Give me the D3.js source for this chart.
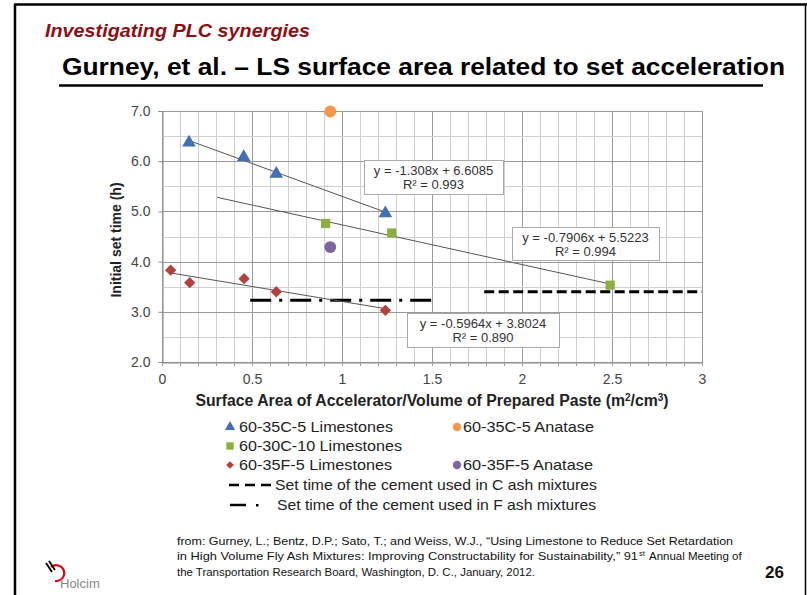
<!DOCTYPE html>
<html><head><meta charset="utf-8">
<script src="https://cdn.jsdelivr.net/npm/d3@7"></script>
<style>
html,body{margin:0;padding:0;background:#fff;}
svg{display:block;font-family:Arial,"Liberation Sans",sans-serif;}
</style></head>
<body>
<svg id="c" width="807" height="595"></svg>
<script>
// ---- data ----
const xTicks = [0, 0.5, 1, 1.5, 2, 2.5, 3];
const xTickLabels = ["0", "0.5", "1", "1.5", "2", "2.5", "3"];
const yTicks = [2, 3, 4, 5, 6, 7];
const yTickLabels = ["2.0", "3.0", "4.0", "5.0", "6.0", "7.0"];

const c35LimeX = [0.15, 0.454, 0.635, 1.241];
const c35LimeY = [6.37, 6.08, 5.75, 4.96];
const c30LimeX = [0.909, 1.276, 2.49];
const c30LimeY = [4.76, 4.57, 3.53];
const f35LimeX = [0.048, 0.154, 0.456, 0.635, 1.241];
const f35LimeY = [3.83, 3.58, 3.66, 3.40, 3.03];
const c35AnatX = [0.935];
const c35AnatY = [6.99];
const f35AnatX = [0.935];
const f35AnatY = [4.29];

// trendlines: slope, intercept, x range
const trendSlopes = [-1.308, -0.7906, -0.5964];
const trendIntercepts = [6.6085, 5.5223, 3.8024];
const trendStart = [0.15, 0.306, 0.048];
const trendEnd = [1.241, 2.49, 1.241];
const trendEq = ["y = -1.308x + 6.6085", "y = -0.7906x + 5.5223", "y = -0.5964x + 3.8024"];
const trendR2 = ["R² = 0.993", "R² = 0.994", "R² = 0.890"];

// cement set time reference lines
const cSetTime = 3.40, cSetRange = [1.79, 3.0];
const fSetTime = 3.23, fSetRange = [0.49, 1.5];

const legendLabels = ["60-35C-5 Limestones", "60-35C-5 Anatase", "60-30C-10 Limestones",
  "60-35F-5 Limestones", "60-35F-5 Anatase",
  "Set time of the cement used in C ash mixtures", "Set time of the cement used in F ash mixtures"];

const colors = {blue:"#3F6FB5", green:"#8CB040", red:"#B5413C", orange:"#F79646", purple:"#8064A2"};

// ---- drawing ----
const svg = d3.select("#c");
const x = d3.scaleLinear().domain([0, 3]).range([162, 702]);
const y = d3.scaleLinear().domain([2, 7]).range([362, 111]);

// slide frame
svg.append("line").attr("x1",15).attr("x2",15).attr("y1",4).attr("y2",595).attr("stroke","#000").attr("stroke-width",2.5);
svg.append("line").attr("x1",14).attr("x2",807).attr("y1",4.5).attr("y2",4.5).attr("stroke","#000").attr("stroke-width",2.5);
svg.append("line").attr("x1",805.5).attr("x2",805.5).attr("y1",4).attr("y2",595).attr("stroke","#000").attr("stroke-width",1.5);

// titles
svg.append("text").attr("x",45).attr("y",37).attr("font-size",18).attr("font-weight","bold")
  .attr("font-style","italic").attr("fill","#8E0F12").attr("textLength",265).attr("lengthAdjust","spacingAndGlyphs")
  .text("Investigating PLC synergies");
svg.append("text").attr("x",62).attr("y",75).attr("font-size",23.5).attr("font-weight","bold")
  .attr("fill","#000").attr("textLength",723).attr("lengthAdjust","spacingAndGlyphs")
  .text("Gurney, et al. – LS surface area related to set acceleration");
svg.append("line").attr("x1",59).attr("x2",763).attr("y1",85.5).attr("y2",85.5).attr("stroke","#000").attr("stroke-width",2.5);

// grid
const g = svg.append("g");
const minorX = d3.range(0, 31).map(i => i/10);
const minorY = d3.range(0, 11).map(i => 2 + i/2);
g.selectAll("line.mx").data(minorX).join("line")
  .attr("x1", d=>Math.round(x(d))+0.5).attr("x2", d=>Math.round(x(d))+0.5)
  .attr("y1", y(7)).attr("y2", y(2))
  .attr("stroke", (d,i)=> i%5===0 ? "#9a9a9a" : "#cfcfcf").attr("stroke-width",1);
g.selectAll("line.my").data(minorY).join("line")
  .attr("x1", x(0)).attr("x2", x(3))
  .attr("y1", d=>Math.round(y(d))+0.5).attr("y2", d=>Math.round(y(d))+0.5)
  .attr("stroke", (d,i)=> i%2===0 ? "#9a9a9a" : "#cfcfcf").attr("stroke-width",1);

// axes
const xAxis = d3.axisBottom(x).tickValues(xTicks).tickFormat((d,i)=>xTickLabels[i]).tickSize(0).tickPadding(12);
const xg = svg.append("g").attr("transform",`translate(0,${Math.round(y(2))+0.5})`).call(xAxis);
xg.select(".domain").attr("stroke","#888");
xg.selectAll("text").attr("font-size",14).attr("fill","#444").attr("font-family","Arial,sans-serif");
svg.append("g").selectAll("line").data(minorX).join("line")
  .attr("x1", d=>Math.round(x(d))+0.5).attr("x2", d=>Math.round(x(d))+0.5)
  .attr("y1", y(2)).attr("y2", y(2)+4).attr("stroke","#999");

const yAxis = d3.axisLeft(y).tickValues(yTicks).tickFormat((d,i)=>yTickLabels[i]).tickSize(4).tickPadding(8);
const yg = svg.append("g").attr("transform",`translate(${Math.round(x(0))+0.5},0)`).call(yAxis);
yg.select(".domain").attr("stroke","#888");
yg.selectAll("line").attr("stroke","#888");
yg.selectAll("text").attr("font-size",14).attr("fill","#444").attr("font-family","Arial,sans-serif");

svg.append("text").attr("transform","translate(121,240) rotate(-90)").attr("text-anchor","middle")
  .attr("font-size",14).attr("font-weight","bold").attr("fill","#222").text("Initial set time (h)");
const xt = svg.append("text").attr("x",432).attr("y",406).attr("text-anchor","middle")
  .attr("font-size",15.8).attr("font-weight","bold").attr("fill","#222");
xt.append("tspan").text("Surface Area of Accelerator/Volume of Prepared Paste (m");
xt.append("tspan").attr("font-size",10).attr("dy",-5).text("2");
xt.append("tspan").attr("dy",5).text("/cm");
xt.append("tspan").attr("font-size",10).attr("dy",-5).text("3");
xt.append("tspan").attr("dy",5).text(")");

// reference lines
svg.append("line").attr("x1",x(cSetRange[0])).attr("x2",x(cSetRange[1])).attr("y1",y(cSetTime)).attr("y2",y(cSetTime))
  .attr("stroke","#000").attr("stroke-width",3).attr("stroke-dasharray","10,4.5");
svg.append("line").attr("x1",x(fSetRange[0])).attr("x2",x(fSetRange[1])).attr("y1",y(fSetTime)).attr("y2",y(fSetTime))
  .attr("stroke","#000").attr("stroke-width",3).attr("stroke-dasharray","21,8,3,8");

// trend lines
trendSlopes.forEach((m,i)=>{
  const a = trendStart[i], b = trendEnd[i];
  svg.append("line").attr("x1",x(a)).attr("y1",y(m*a+trendIntercepts[i]))
    .attr("x2",x(b)).attr("y2",y(m*b+trendIntercepts[i]))
    .attr("stroke","#555").attr("stroke-width",1);
});

// points
const series = [
  {xs:c35LimeX, ys:c35LimeY, sym:d3.symbolTriangle, size:80, rot:0, color:colors.blue},
  {xs:c30LimeX, ys:c30LimeY, sym:d3.symbolSquare, size:85, rot:0, color:colors.green},
  {xs:f35LimeX, ys:f35LimeY, sym:d3.symbolSquare, size:64, rot:45, color:colors.red},
  {xs:c35AnatX, ys:c35AnatY, sym:d3.symbolCircle, size:110, rot:0, color:colors.orange},
  {xs:f35AnatX, ys:f35AnatY, sym:d3.symbolCircle, size:110, rot:0, color:colors.purple}
];
series.forEach(s=>{
  svg.append("g").selectAll("path").data(s.xs.map((v,i)=>[v,s.ys[i]])).join("path")
    .attr("d", d3.symbol().type(s.sym).size(s.size))
    .attr("transform", d=>`translate(${x(d[0])},${y(d[1])}) rotate(${s.rot})`)
    .attr("fill", s.color);
});

// equation boxes
const boxes = [[364,160,139,34],[512,227,147,33],[407,313,152,34]];
boxes.forEach((b,i)=>{
  svg.append("rect").attr("x",b[0]+0.5).attr("y",b[1]+0.5).attr("width",b[2]).attr("height",b[3])
    .attr("fill","#fff").attr("stroke","#aaa").attr("stroke-width",1);
  svg.append("text").attr("x",b[0]+b[2]/2).attr("y",b[1]+15).attr("text-anchor","middle")
    .attr("font-size",13).attr("fill","#333").text(trendEq[i]);
  svg.append("text").attr("x",b[0]+b[2]/2).attr("y",b[1]+29).attr("text-anchor","middle")
    .attr("font-size",13).attr("fill","#333").text(trendR2[i]);
});

// legend
const lg = svg.append("g").attr("font-size",15).attr("fill","#222");
const legMarks = [
  {mx:230, my:427, tx:239, w:154, sym:d3.symbolTriangle, size:45, rot:0, color:colors.blue, label:legendLabels[0]},
  {mx:457, my:427, tx:463, w:131, sym:d3.symbolCircle, size:55, rot:0, color:colors.orange, label:legendLabels[1]},
  {mx:230, my:446, tx:239, w:163, sym:d3.symbolSquare, size:55, rot:0, color:colors.green, label:legendLabels[2]},
  {mx:230, my:465, tx:239, w:153, sym:d3.symbolSquare, size:30, rot:45, color:colors.red, label:legendLabels[3]},
  {mx:457, my:465, tx:463, w:130, sym:d3.symbolCircle, size:55, rot:0, color:colors.purple, label:legendLabels[4]}
];
legMarks.forEach(m=>{
  lg.append("path").attr("d", d3.symbol().type(m.sym).size(m.size)())
    .attr("transform",`translate(${m.mx},${m.my}) rotate(${m.rot})`).attr("fill",m.color);
  lg.append("text").attr("x",m.tx).attr("y",m.my+5).attr("fill","#222")
    .attr("textLength",m.w).attr("lengthAdjust","spacingAndGlyphs").text(m.label);
});
lg.append("line").attr("x1",229).attr("x2",273).attr("y1",485).attr("y2",485)
  .attr("stroke","#000").attr("stroke-width",2.5).attr("stroke-dasharray","10,6");
lg.append("text").attr("x",275).attr("y",490).attr("fill","#222")
  .attr("textLength",322).attr("lengthAdjust","spacingAndGlyphs").text(legendLabels[5]);
lg.append("line").attr("x1",230).attr("x2",246).attr("y1",505).attr("y2",505).attr("stroke","#000").attr("stroke-width",2.5);
lg.append("rect").attr("x",256).attr("y",504).attr("width",2.5).attr("height",2.5).attr("fill","#000");
lg.append("text").attr("x",277).attr("y",510).attr("fill","#222")
  .attr("textLength",319).attr("lengthAdjust","spacingAndGlyphs").text(legendLabels[6]);

// footnote
const fn = svg.append("g").attr("font-size",11.5).attr("fill","#111");
fn.append("text").attr("x",177).attr("y",545).attr("textLength",556).attr("lengthAdjust","spacingAndGlyphs")
  .text("from:  Gurney, L.; Bentz, D.P.; Sato, T.; and Weiss, W.J., \u201cUsing Limestone to Reduce Set Retardation");
fn.append("text").attr("x",177).attr("y",560).attr("textLength",461).attr("lengthAdjust","spacingAndGlyphs")
  .text("in High Volume Fly Ash Mixtures:  Improving Constructability for Sustainability,\u201d 91");
fn.append("text").attr("x",639).attr("y",556).attr("font-size",7.5).text("st");
fn.append("text").attr("x",649).attr("y",560).text("Annual Meeting of");
fn.append("text").attr("x",177).attr("y",576).attr("textLength",358).attr("lengthAdjust","spacingAndGlyphs")
  .text("the Transportation Research Board, Washington, D. C., January, 2012.");

svg.append("text").attr("x",765).attr("y",578).attr("font-size",17).attr("font-weight","bold").attr("fill","#111").text("26");

// Holcim logo
const logo = svg.append("g");
logo.append("path").attr("d","M51,567 A8,8 0 1 1 55,581").attr("fill","none").attr("stroke","#E3000F").attr("stroke-width",2.2);
logo.append("path").attr("d","M46,563 L52,572 M49,561 L55,570").attr("stroke","#000").attr("stroke-width",1.8);
logo.append("text").attr("x",60).attr("y",588).attr("font-size",13).attr("fill","#888").text("Holcim");
</script>
</body></html>
